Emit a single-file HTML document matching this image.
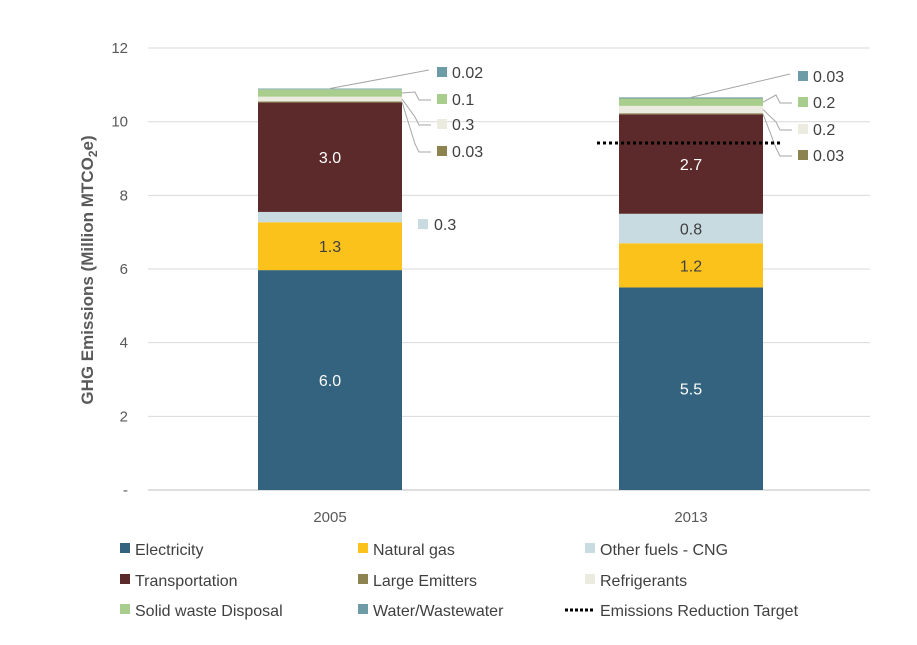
<!DOCTYPE html>
<html><head><meta charset="utf-8"><style>
body{margin:0;background:#fff;font-family:"Liberation Sans",sans-serif;}
svg text{font-family:"Liberation Sans",sans-serif;}
</style></head><body>
<svg width="917" height="640" id="c"></svg>
<script>
const categories=["2005","2013"];
const seriesNames=["Electricity","Natural gas","Other fuels - CNG","Transportation","Large Emitters","Refrigerants","Solid waste Disposal","Water/Wastewater"];
const colors=["#33637e","#fcc21c","#c8dbe0","#5c2a2a","#8c8350","#ecebe0","#a9cd8c","#6e9ca6"];
const electricity=[5.97,5.5];
const naturalGas=[1.3,1.2];
const otherFuels=[0.28,0.8];
const transportation=[2.97,2.7];
const largeEmitters=[0.03,0.03];
const refrigerants=[0.13,0.2];
const solidWaste=[0.2,0.2];
const water=[0.02,0.03];
const printed2005=["6.0","1.3","0.3","3.0","0.03","0.3","0.1","0.02"];
const printed2013=["5.5","1.2","0.8","2.7","0.03","0.2","0.2","0.03"];
const target=[9.42];
const yTicks=[0,2,4,6,8,10,12];
const yTickLabels=["-","2","4","6","8","10","12"];

const NS="http://www.w3.org/2000/svg";
const svg=document.getElementById('c');
function mk(t,a,p){const e=document.createElementNS(NS,t);for(const k in a)e.setAttribute(k,a[k]);(p||svg).appendChild(e);return e;}
const y0=490,pxU=36.83,left=148,right=870;
const y=v=>y0-v*pxU;
const barW=144;
const xc=i=>[330,691][i];
const series=[electricity,naturalGas,otherFuels,transportation,largeEmitters,refrigerants,solidWaste,water];
const printed=[printed2005,printed2013];
// grid
yTicks.forEach((t,i)=>{
  if(t>0){const g=mk('line',{x1:left,x2:right,y1:y(t),y2:y(t),stroke:'#d9d9d9','stroke-width':1});
  }
  const tl=mk('text',{x:128,y:y(t)+5,'text-anchor':'end','font-size':15,fill:'#595959'});
  tl.textContent=yTickLabels[i];
  
});
const ax=mk('line',{x1:left,x2:right,y1:y0,y2:y0,stroke:'#bfbfbf','stroke-width':1});

const yt=mk('text',{transform:'translate(93,270) rotate(-90)','text-anchor':'middle','font-size':17,'font-weight':'bold',fill:'#595959'});
yt.innerHTML='GHG Emissions (Million MTCO<tspan font-size="12" dy="4">2</tspan><tspan dy="-4">e)</tspan>';

// bars
categories.forEach((c,i)=>{
  let cum=0;const tops=[];
  series.forEach((s,j)=>{
    const v=s[i];const r=mk('rect',{x:xc(i)-barW/2,y:y(cum+v),width:barW,height:v*pxU,fill:colors[j]});
    
    
    tops.push([cum,cum+v]);cum+=v;
  });
  // inner labels
  [0,1,3].concat(i==1?[2]:[]).forEach(j=>{
    const m=(tops[j][0]+tops[j][1])/2;
    const t=mk('text',{x:xc(i),y:y(m)+6,'text-anchor':'middle','font-size':16,fill:j==2?'#404040':(j==1?'#404040':'#fff')});
    t.textContent=printed[i][j];
    
  });
  // callouts
  const outer=i==0?[4,5,6,7]:[4,5,6,7];
  const ly=i==0?[152,125,100,73]:[156,130,103,77];
  const sx=xc(i)+barW/2+35;
  outer.forEach((j,k)=>{
    const m=(tops[j][0]+tops[j][1])/2;
    let pts;
    if(j==7) pts=`${xc(i)},${y(tops[j][1])} ${sx-8},${ly[k]-3}`;
    else pts=`${xc(i)+barW/2},${y(m)} ${sx-22},${ly[k]-8} ${sx-18},${ly[k]} ${sx-6},${ly[k]}`;
    const l=mk('polyline',{points:pts,fill:'none',stroke:'#a6a6a6','stroke-width':1});
    
    const sq=mk('rect',{x:sx,y:ly[k]-6,width:10,height:10,fill:colors[j]});
    
    const t=mk('text',{x:sx+15,y:ly[k]+5,'font-size':16,fill:'#404040'});t.textContent=printed[i][j];
    
  });
  if(i==0){
    const m=(tops[2][0]+tops[2][1])/2;
    const sq=mk('rect',{x:xc(i)+barW/2+16,y:y(m)+2,width:10,height:10,fill:colors[2]});
    
    const t=mk('text',{x:xc(i)+barW/2+32,y:y(m)+13,'font-size':16,fill:'#404040'});t.textContent=printed[i][2];
    
  }
  const cl=mk('text',{x:xc(i),y:522,'text-anchor':'middle','font-size':15,fill:'#595959'});cl.textContent=c;
  
});
const tl=mk('line',{x1:597,x2:783,y1:y(target[0]),y2:y(target[0]),stroke:'#000','stroke-width':3,'stroke-dasharray':'3,3'});

// legend
const legCols=[120,358,585],legRows=[549,580,610];
seriesNames.concat(["Emissions Reduction Target"]).forEach((n,k)=>{
  const cx=legCols[k%3],cy=legRows[Math.floor(k/3)];
  const g=mk('g',{});
  
  if(k<8) mk('rect',{x:cx,y:cy-6,width:10,height:10,fill:colors[k]},g);
  else mk('line',{x1:cx-20,x2:cx+10,y1:cy,y2:cy,stroke:'#000','stroke-width':3,'stroke-dasharray':'3,2'},g);
  const t=mk('text',{x:cx+15,y:cy+6,'font-size':16,fill:'#404040'},g);t.textContent=n;
});
</script>
</body></html>
